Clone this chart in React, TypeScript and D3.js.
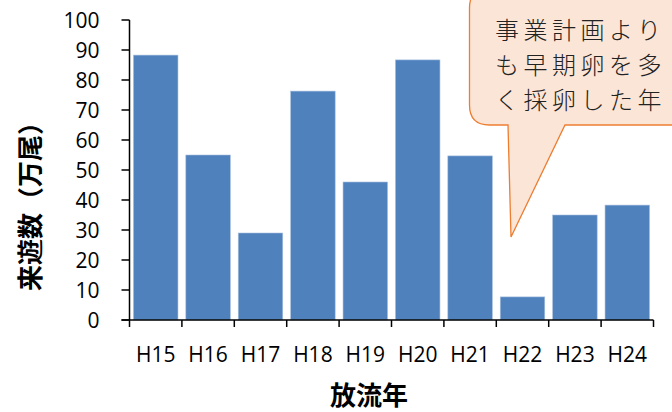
import React from "react";
import * as d3 from "d3";

const categories = ["H15", "H16", "H17", "H18", "H19", "H20", "H21", "H22", "H23", "H24"];
const values = [88.3, 55, 29, 76.3, 46, 86.7, 54.7, 7.7, 35, 38.3];
const yTicks = [0, 10, 20, 30, 40, 50, 60, 70, 80, 90, 100];
const yTitle = "来遊数（万尾）";
const xTitle = "放流年";
const calloutLines = ["事業計画より", "も早期卵を多", "く採卵した年"];

export default function App() {
  const W = 672, H = 412;
  const left = 129.5, right = 653.5, top = 20, bottom = 320;
  const x = d3.scaleBand<string>().domain(categories).range([left, right]).paddingInner(0.15).paddingOuter(0.075);
  const y = d3.scaleLinear().domain([0, 100]).range([bottom, top]);
  const step = (right - left) / categories.length;
  const tickFont = "'Open Sans', 'Liberation Sans', sans-serif";
  const jpFont = "'Noto Sans CJK JP', sans-serif";

  const cx = 469.5, cyTop = -12, cxR = 700, cyB = 125, r = 20;
  const tailL = 508, tailR = 565, tipX = 511, tipY = 237;
  const calloutPath =
    `M${cx + r},${cyTop} L${cxR},${cyTop} L${cxR},${cyB} L${tailR},${cyB} L${tipX},${tipY} L${tailL},${cyB} ` +
    `L${cx + r},${cyB} Q${cx},${cyB} ${cx},${cyB - r} L${cx},${cyTop + r} Q${cx},${cyTop} ${cx + r},${cyTop} Z`;

  return (
    <svg width={W} height={H} style={{ position: "absolute", left: 0, top: 0, background: "#fff" }}>
      {categories.map((c, i) => (
        <rect key={c} x={x(c)} y={y(values[i])} width={x.bandwidth()} height={y(0) - y(values[i])}
          fill="#4F81BD" stroke="#A9C0DE" strokeWidth={0.6} />
      ))}
      {/* y axis */}
      <line x1={left} x2={left} y1={top} y2={bottom} stroke="#000" strokeWidth={1.5} />
      {yTicks.map(t => (
        <g key={t}>
          <line x1={left - 8} x2={left} y1={y(t)} y2={y(t)} stroke="#000" strokeWidth={1.5} />
          <text x={left - 30} y={y(t)} dy="0.36em" textAnchor="end" fontSize={21} fontFamily={tickFont} fill="#000">{t}</text>
        </g>
      ))}
      {/* x axis */}
      <line x1={left - 8} x2={right} y1={bottom} y2={bottom} stroke="#000" strokeWidth={1.5} />
      {d3.range(categories.length + 1).map(i => (
        <line key={i} x1={left + i * step} x2={left + i * step} y1={bottom} y2={bottom + 7} stroke="#000" strokeWidth={1.5} />
      ))}
      {categories.map(c => (
        <text key={c} x={x(c)! + x.bandwidth() / 2} y={362} textAnchor="middle" fontSize={21} fontFamily={tickFont} fill="#000">{c}</text>
      ))}
      <text x={369} y={405} textAnchor="middle" fontSize={26} fontWeight="bold" fontFamily={jpFont} fill="#000">{xTitle}</text>
      <text transform={`translate(40,200) rotate(-90)`} textAnchor="middle" fontSize={26} fontWeight="bold" fontFamily={jpFont} fill="#000">{yTitle}</text>
      {/* callout */}
      <path d={calloutPath} fill="#FBE5D6" stroke="#ED7D31" strokeWidth={1.3} />
      {calloutLines.map((l, i) => (
        <text key={i} x={495} y={39 + i * 35} fontSize={24} letterSpacing={4.5} fontFamily={jpFont} fontWeight={300} fill="#222">{l}</text>
      ))}
    </svg>
  );
}
